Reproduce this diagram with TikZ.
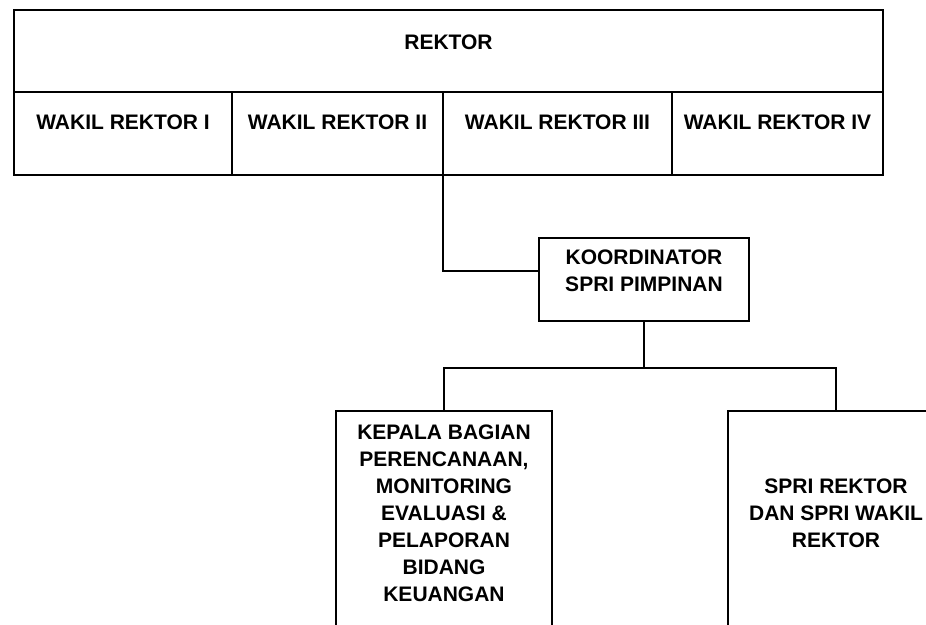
\documentclass[tikz,border=0pt]{standalone}
\usepackage{fontspec}
\setmainfont{Liberation Sans}

\tikzset{
  box/.style={draw, line width=1.2pt, inner sep=0pt, outer sep=0pt, anchor=north west},
  txt/.style={font=\fontsize{21}{27}\selectfont\bfseries, align=center, inner sep=0pt, anchor=north},
}

\begin{document}
\begin{tikzpicture}[x=1pt, y=-1pt]
  \useasboundingbox (0,0) rectangle (926,624);
  \clip (0,0) rectangle (926,624);
  \node[box, minimum width=869pt, minimum height=82pt,
        label={[txt, yshift=-25pt]north:REKTOR}] (rektor) at (14,10) {};
  \node[box, minimum width=218pt, minimum height=83pt,
        label={[txt, yshift=-23pt]north:WAKIL REKTOR I}] (wr1) at (14,92) {};
  \node[box, minimum width=211pt, minimum height=83pt,
        label={[txt, yshift=-23pt]north:WAKIL REKTOR II}] (wr2) at (232,92) {};
  \node[box, minimum width=229pt, minimum height=83pt,
        label={[txt, yshift=-23pt]north:WAKIL REKTOR III}] (wr3) at (443,92) {};
  \node[box, minimum width=211pt, minimum height=83pt,
        label={[txt, yshift=-23pt]north:WAKIL REKTOR IV}] (wr4) at (672,92) {};
  \node[box, minimum width=210pt, minimum height=83pt,
        label={[txt, yshift=-12pt]north:KOORDINATOR\\SPRI PIMPINAN}] (koor) at (539,238) {};
  \node[box, minimum width=216pt, minimum height=260pt,
        label={[txt, yshift=-14pt]north:KEPALA BAGIAN\\PERENCANAAN,\\MONITORING\\EVALUASI \&\\PELAPORAN\\BIDANG\\KEUANGAN}] (kabag) at (336,411) {};
  \node[box, minimum width=216pt, minimum height=260pt,
        label={[txt, yshift=-68pt]north:SPRI REKTOR\\DAN SPRI WAKIL\\REKTOR}] (spri) at (728,411) {};
  \draw[line width=1.2pt] (wr3.south west) |- ([yshift=8.5pt]koor.west);
  \draw[line width=1.2pt] (koor.south) -- ++(0,47) coordinate (fork);
  \draw[line width=1.2pt] (kabag.north) |- (fork) -| (spri.north);
\end{tikzpicture}
\end{document}
